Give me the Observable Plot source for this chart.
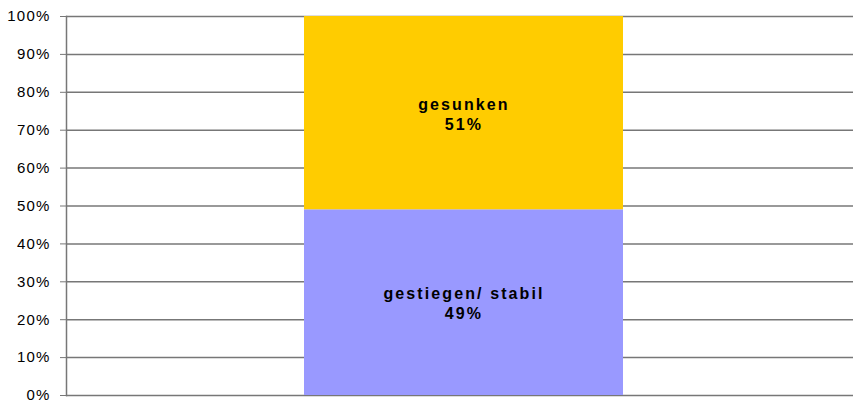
<!DOCTYPE html>
<html>
<head>
<meta charset="utf-8">
<script src="https://cdn.jsdelivr.net/npm/d3@7"></script>
<script src="https://cdn.jsdelivr.net/npm/@observablehq/plot@0.6"></script>
<style>
  html, body { margin: 0; padding: 0; background: #fff; }
  #chart svg { display: block; }
</style>
</head>
<body>
<div id="chart"></div>
<script>
const categories = ["gestiegen/ stabil", "gesunken"];
const values = [49, 51];
const colors = ["#9999FF", "#FFCC00"];
const yTicks = [0, 10, 20, 30, 40, 50, 60, 70, 80, 90, 100];
const group = "A";

const data = categories.map((c, i) => ({ group, category: c, value: values[i] }));

const chart = Plot.plot({
  width: 854,
  height: 401,
  marginLeft: 66,
  marginRight: 1,
  marginTop: 16,
  marginBottom: 6,
  style: { fontFamily: "Liberation Sans, Arial, sans-serif", fontSize: "15px", background: "#fff" },
  x: { domain: [group], paddingInner: 0.4225, paddingOuter: 0.4225, align: 0.51, axis: null },
  y: { domain: [0, 100], ticks: yTicks, axis: null },
  color: { domain: categories, range: colors },
  marks: [
    Plot.ruleY(yTicks, { stroke: "#777", strokeWidth: 1.5 }),
    Plot.barY(data, Plot.stackY({
      x: "group", y: "value", fill: "category", z: "category", order: categories
    })),
    Plot.text(data, Plot.stackY({
      x: "group", y: "value", z: "category", order: categories,
      text: d => `${d.category}\n${d.value}%`,
      fontWeight: "bold", fontSize: 16, fill: "#000", lineHeight: 1.25,
      className: "barlabel"
    })),
    Plot.frame({ anchor: "left", stroke: "#777", strokeWidth: 1.5 }),
    Plot.axisY({
      ticks: yTicks, tickFormat: d => d + "%", tickSize: 6, tickPadding: 10,
      stroke: "#777", fill: "#000", fontSize: 15, label: null, className: "yaxis"
    })
  ]
});
chart.querySelectorAll(".yaxis text").forEach(t => t.style.letterSpacing = "1.2px");
chart.querySelectorAll(".barlabel text").forEach(t => t.style.letterSpacing = "2.1px");
document.getElementById("chart").appendChild(chart);
</script>
</body>
</html>
